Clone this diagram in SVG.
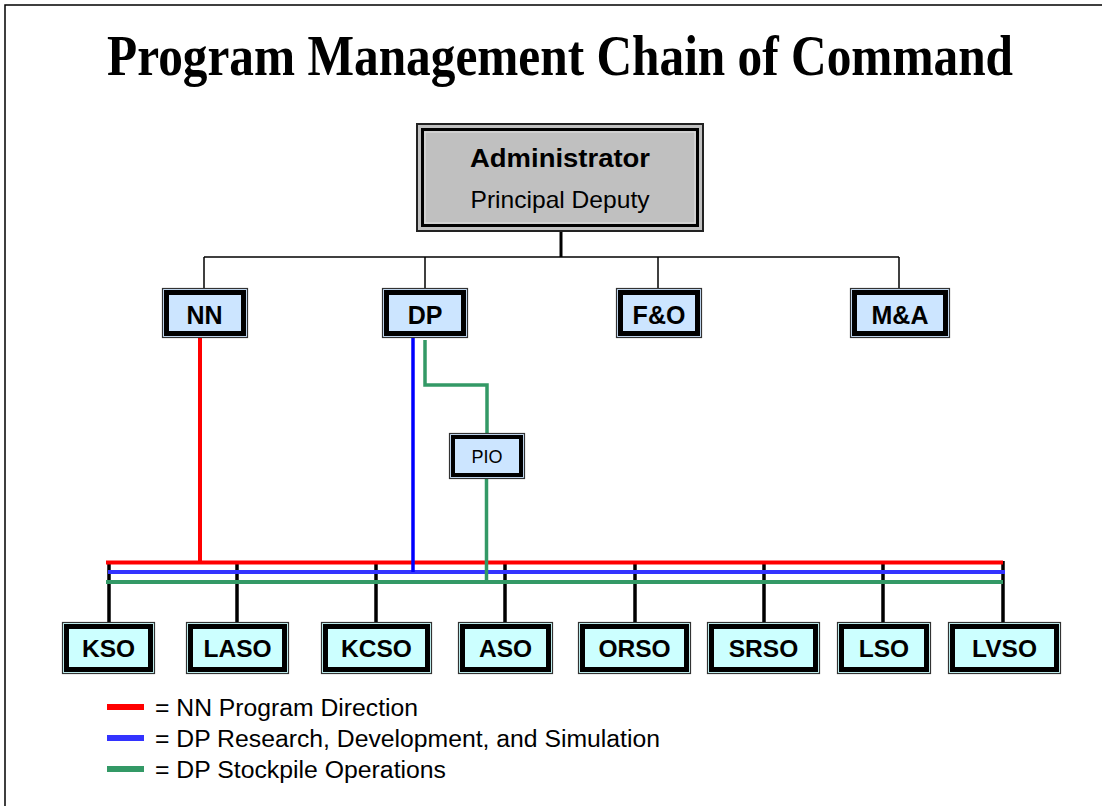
<svg xmlns="http://www.w3.org/2000/svg" width="1107" height="806" viewBox="0 0 1107 806">
  <style>
    .title { font-family: "Liberation Serif", "Times New Roman", serif; font-weight: bold; font-size: 49px; fill: #000; }
    .lbl { font-family: "Liberation Sans", Arial, sans-serif; fill: #000; text-anchor: middle; }
    .b25 { font-weight: bold; font-size: 25px; }
    .b24 { font-weight: bold; font-size: 24.5px; }
    .leg { font-family: "Liberation Sans", Arial, sans-serif; font-size: 23.5px; fill: #000; }
    .frameO { stroke: #333; stroke-width: 1.2; }
    .frameI { stroke: #000; stroke-width: 5; }
    .mid { fill: #cce5ff; }
    .low { fill: #ccffff; }
    .org { stroke: #000; fill: none; }
    .drop { stroke: #000; stroke-width: 3.5; fill: none; }
    .red { stroke: #ff0000; stroke-width: 4; fill: none; }
    .blue { stroke: #0000ff; stroke-width: 3.5; fill: none; }
    .blueBus { stroke: #3333ff; stroke-width: 4; fill: none; }
    .green { stroke: #339966; stroke-width: 3.5; fill: none; }
    .greenBus { stroke: #339966; stroke-width: 4; fill: none; }
  </style>

  <!-- page frame -->
  <path d="M5,806 V5 H1102" fill="none" stroke="#000" stroke-width="1.5"/>

  <!-- condensed title: narrow glyphs stretched vertically -->
  <text class="title" transform="translate(107,75) scale(1,1.143)" x="0" y="0" textLength="906" lengthAdjust="spacingAndGlyphs">Program Management Chain of Command</text>

  <!-- connectors -->
  <g id="connectors">
    <!-- top hierarchy -->
    <line class="org" x1="561" y1="231" x2="561" y2="257" stroke-width="3"/>
    <line class="org" x1="204" y1="257" x2="899" y2="257" stroke-width="1.5"/>
    <line class="org" x1="204" y1="257" x2="204" y2="288" stroke-width="1.5"/>
    <line class="org" x1="425" y1="257" x2="425" y2="288" stroke-width="1.5"/>
    <line class="org" x1="658" y1="257" x2="658" y2="288" stroke-width="1.5"/>
    <line class="org" x1="899" y1="257" x2="899" y2="288" stroke-width="1.5"/>

    <!-- drops to site offices -->
    <line class="drop" x1="109" y1="561" x2="109" y2="622"/>
    <line class="drop" x1="237" y1="561" x2="237" y2="622"/>
    <line class="drop" x1="376" y1="561" x2="376" y2="622"/>
    <line class="drop" x1="505" y1="561" x2="505" y2="622"/>
    <line class="drop" x1="635" y1="561" x2="635" y2="622"/>
    <line class="drop" x1="764" y1="561" x2="764" y2="622"/>
    <line class="drop" x1="883" y1="561" x2="883" y2="622"/>
    <line class="drop" x1="1003" y1="561" x2="1003" y2="622"/>

    <!-- buses -->
    <line class="red" x1="106" y1="562.5" x2="1003" y2="562.5"/>
    <line class="blueBus" x1="108" y1="572" x2="1005" y2="572"/>
    <line class="greenBus" x1="106" y1="582" x2="1003" y2="582"/>

    <!-- program direction lines -->
    <line class="red" x1="200" y1="337" x2="200" y2="562"/>
    <line class="blue" x1="413" y1="337" x2="413" y2="572"/>
    <path class="green" d="M425,340 V385 H487 V433"/>
    <line class="green" x1="486.5" y1="478" x2="486.5" y2="584"/>
  </g>

  <!-- top node -->
  <g id="administrator">
    <rect x="417" y="124" width="286" height="107" fill="#c0c0c0" stroke="#222" stroke-width="2"/>
    <rect x="422.5" y="129.5" width="275" height="96" fill="#c0c0c0" stroke="#000" stroke-width="3"/>
    <rect x="425" y="132" width="270" height="91" fill="none" stroke="#e0e0e0" stroke-width="1"/>
    <text class="lbl" x="560" y="167" font-size="25" font-weight="bold" textLength="180" lengthAdjust="spacingAndGlyphs">Administrator</text>
    <text class="lbl" x="560" y="208" font-size="24" textLength="179" lengthAdjust="spacingAndGlyphs">Principal Deputy</text>
  </g>

  <!-- second row -->
  <g id="nn">
    <rect class="mid frameO" x="162.5" y="288.5" width="85" height="49"/>
    <rect class="mid frameI" x="166.5" y="292.5" width="77" height="41"/>
    <text class="lbl b25" x="204.5" y="324">NN</text>
  </g>
  <g id="dp">
    <rect class="mid frameO" x="382.5" y="288.5" width="85" height="49"/>
    <rect class="mid frameI" x="386.5" y="292.5" width="77" height="41"/>
    <text class="lbl b25" x="425" y="324">DP</text>
  </g>
  <g id="fo">
    <rect class="mid frameO" x="616.5" y="288.5" width="85" height="49"/>
    <rect class="mid frameI" x="620.5" y="292.5" width="77" height="41"/>
    <text class="lbl b25" x="659" y="324">F&amp;O</text>
  </g>
  <g id="ma">
    <rect class="mid frameO" x="850.5" y="288.5" width="99" height="49"/>
    <rect class="mid frameI" x="854.5" y="292.5" width="91" height="41"/>
    <text class="lbl b25" x="900" y="324">M&amp;A</text>
  </g>

  <g id="pio">
    <rect class="mid frameO" x="449.5" y="433.5" width="75" height="45"/>
    <rect class="mid" x="453" y="437" width="68" height="38" stroke="#000" stroke-width="4"/>
    <text class="lbl" x="487" y="463" font-size="18">PIO</text>
  </g>

  <!-- site offices -->
  <g id="kso">
    <rect class="low frameO" x="62.5" y="622.5" width="92" height="51"/>
    <rect class="low frameI" x="66.5" y="626.5" width="84" height="43"/>
    <text class="lbl b24" x="108.5" y="657">KSO</text>
  </g>
  <g id="laso">
    <rect class="low frameO" x="186.5" y="622.5" width="102" height="51"/>
    <rect class="low frameI" x="190.5" y="626.5" width="94" height="43"/>
    <text class="lbl b24" x="237.5" y="657">LASO</text>
  </g>
  <g id="kcso">
    <rect class="low frameO" x="321.5" y="622.5" width="110" height="51"/>
    <rect class="low frameI" x="325.5" y="626.5" width="102" height="43"/>
    <text class="lbl b24" x="376.5" y="657">KCSO</text>
  </g>
  <g id="aso">
    <rect class="low frameO" x="458.5" y="622.5" width="94" height="51"/>
    <rect class="low frameI" x="462.5" y="626.5" width="86" height="43"/>
    <text class="lbl b24" x="505.5" y="657">ASO</text>
  </g>
  <g id="orso">
    <rect class="low frameO" x="578.5" y="622.5" width="112" height="51"/>
    <rect class="low frameI" x="582.5" y="626.5" width="104" height="43"/>
    <text class="lbl b24" x="634.5" y="657">ORSO</text>
  </g>
  <g id="srso">
    <rect class="low frameO" x="707.5" y="622.5" width="112" height="51"/>
    <rect class="low frameI" x="711.5" y="626.5" width="104" height="43"/>
    <text class="lbl b24" x="763.5" y="657">SRSO</text>
  </g>
  <g id="lso">
    <rect class="low frameO" x="837.5" y="622.5" width="93" height="51"/>
    <rect class="low frameI" x="841.5" y="626.5" width="85" height="43"/>
    <text class="lbl b24" x="884" y="657">LSO</text>
  </g>
  <g id="lvso">
    <rect class="low frameO" x="948.5" y="622.5" width="112" height="51"/>
    <rect class="low frameI" x="952.5" y="626.5" width="104" height="43"/>
    <text class="lbl b24" x="1004.5" y="657">LVSO</text>
  </g>

  <!-- legend -->
  <g id="legend">
    <rect x="107" y="704" width="37" height="6" fill="#ff0000"/>
    <rect x="107" y="735" width="37" height="6" fill="#3333ff"/>
    <rect x="107" y="766" width="37" height="6" fill="#339966"/>
    <text class="leg" x="155" y="716" textLength="263" lengthAdjust="spacingAndGlyphs">= NN Program Direction</text>
    <text class="leg" x="155" y="747" textLength="505" lengthAdjust="spacingAndGlyphs">= DP Research, Development, and Simulation</text>
    <text class="leg" x="155" y="778" textLength="291" lengthAdjust="spacingAndGlyphs">= DP Stockpile Operations</text>
  </g>
</svg>
